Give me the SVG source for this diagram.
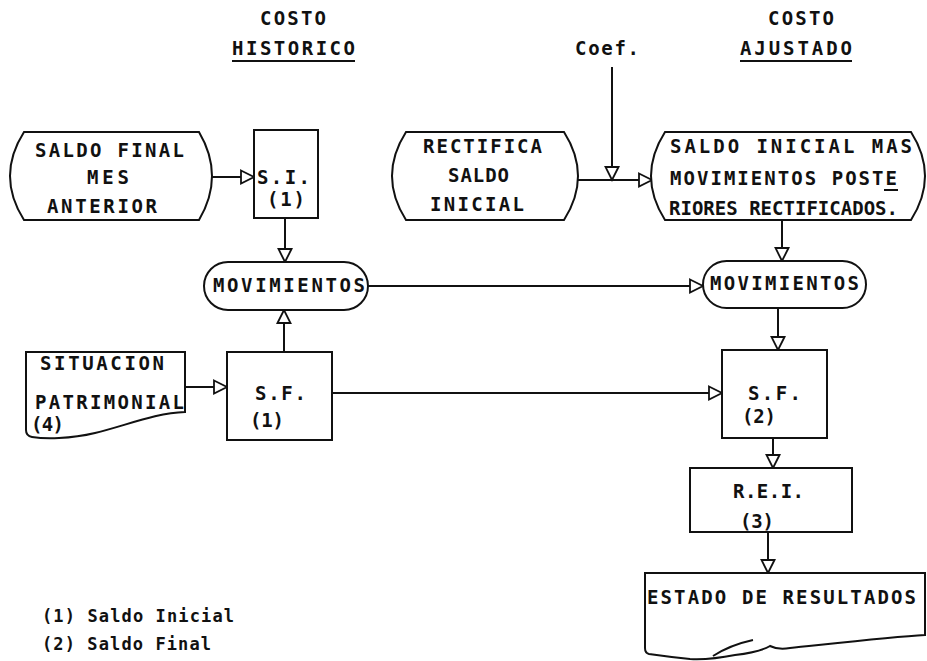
<svg xmlns="http://www.w3.org/2000/svg" width="927" height="661" viewBox="0 0 927 661">
<defs>
<style>
.t{font-family:"DejaVu Sans Mono","Liberation Mono",monospace;font-size:19px;font-weight:bold;fill:#111}
.f{font-family:"DejaVu Sans Mono","Liberation Mono",monospace;font-size:17px;font-weight:bold;fill:#111}
.s{fill:#fff;stroke:#111;stroke-width:2}
.o{fill:none;stroke:#111;stroke-width:2}
.c{fill:none;stroke:#111;stroke-width:2;marker-end:url(#ah)}
</style>
<marker id="ah" markerWidth="18" markerHeight="18" refX="14" refY="7" orient="auto" markerUnits="userSpaceOnUse" overflow="visible">
<path d="M1,0.5 L14,7 L1,13.5 Z" fill="#fff" stroke="#111" stroke-width="1.8"/>
</marker>
</defs>
<rect width="927" height="661" fill="#fff"/>

<g id="headers">
<text class="t" x="260" y="25" textLength="66" lengthAdjust="spacing">COSTO</text>
<text class="t" x="232" y="55" textLength="123" lengthAdjust="spacing">HISTORICO</text>
<line class="o" x1="232" y1="61" x2="355" y2="61"/>
<text class="t" x="768" y="25" textLength="66" lengthAdjust="spacing">COSTO</text>
<text class="t" x="740" y="55" textLength="112" lengthAdjust="spacing">AJUSTADO</text>
<line class="o" x1="740" y1="61" x2="852" y2="61"/>
</g>

<g id="connectors">
<path class="c" d="M212,177 H254"/>
<path class="c" d="M285,218 V262"/>
<path class="c" d="M284,352 V310"/>
<path class="c" d="M185,387 H227"/>
<path class="c" d="M368,286 H703"/>
<path class="c" d="M332,393 H722"/>
<path class="c" d="M612,67 V180"/>
<path class="c" d="M578,180 H652"/>
<path class="c" d="M782,220 V261"/>
<path class="c" d="M778,308 V350"/>
<path class="c" d="M773,438 V468"/>
<path class="c" d="M768,532 V573"/>
</g>

<g id="coef">
<text class="t" x="575" y="55" textLength="64" lengthAdjust="spacing">Coef.</text>
</g>

<g id="saldo-final-mes-anterior">
<path class="s" d="M24,132 H199 Q225,176 199,220 H24 Q-4,176 24,132 Z"/>
<text class="t" x="35" y="157" textLength="149" lengthAdjust="spacing">SALDO FINAL</text>
<text class="t" x="87" y="184" textLength="42" lengthAdjust="spacing">MES</text>
<text class="t" x="47" y="213" textLength="110" lengthAdjust="spacing">ANTERIOR</text>
</g>

<g id="si1">
<rect class="s" x="254" y="130" width="64" height="88"/>
<text class="t" x="257" y="184" textLength="53" lengthAdjust="spacing">S.I.</text>
<text class="t" x="267" y="206" textLength="38" lengthAdjust="spacing">(1)</text>
</g>

<g id="rectifica">
<path class="s" d="M406,132 H564 Q592,176 564,220 H406 Q378,176 406,132 Z"/>
<text class="t" x="423" y="153" textLength="119" lengthAdjust="spacing">RECTIFICA</text>
<text class="t" x="448" y="182" textLength="61" lengthAdjust="spacing">SALDO</text>
<text class="t" x="430" y="211" textLength="94" lengthAdjust="spacing">INICIAL</text>
</g>

<g id="saldo-inicial-mas">
<path class="s" d="M665,132 H911 Q939,176 911,220 H665 Q637,176 665,132 Z"/>
<text class="t" x="670" y="153" textLength="242" lengthAdjust="spacing">SALDO INICIAL MAS</text>
<text class="t" x="670" y="185" textLength="227" lengthAdjust="spacing">MOVIMIENTOS POSTE</text>
<line class="o" x1="884" y1="190" x2="898" y2="190"/>
<text class="t" x="669" y="215" textLength="229" lengthAdjust="spacing">RIORES RECTIFICADOS.</text>
</g>

<g id="movimientos-h">
<rect class="s" x="204" y="262" width="164" height="48" rx="24"/>
<text class="t" x="213" y="292" textLength="152" lengthAdjust="spacing">MOVIMIENTOS</text>
</g>

<g id="movimientos-a">
<rect class="s" x="703" y="261" width="163" height="47" rx="23.5"/>
<text class="t" x="710" y="290" textLength="149" lengthAdjust="spacing">MOVIMIENTOS</text>
</g>

<g id="situacion-patrimonial">
<path class="s" d="M26,352 H185 V412 C155,413 125,426 95,433 C70,439 45,439 32,437 Q26,436 26,430 Z"/>
<text class="t" x="40" y="370" textLength="124" lengthAdjust="spacing">SITUACION</text>
<text class="t" x="35" y="409" textLength="149" lengthAdjust="spacing">PATRIMONIAL</text>
<text class="t" x="31" y="431" textLength="33" lengthAdjust="spacing">(4)</text>
</g>

<g id="sf1">
<rect class="s" x="227" y="352" width="105" height="88"/>
<text class="t" x="255" y="400" textLength="51" lengthAdjust="spacing">S.F.</text>
<text class="t" x="250" y="427" textLength="34" lengthAdjust="spacing">(1)</text>
</g>

<g id="sf2">
<rect class="s" x="722" y="350" width="105" height="88"/>
<text class="t" x="748" y="400" textLength="53" lengthAdjust="spacing">S.F.</text>
<text class="t" x="742" y="423" textLength="34" lengthAdjust="spacing">(2)</text>
</g>

<g id="rei">
<rect class="s" x="690" y="468" width="162" height="64"/>
<text class="t" x="733" y="498" textLength="71" lengthAdjust="spacing">R.E.I.</text>
<text class="t" x="740" y="528" textLength="34" lengthAdjust="spacing">(3)</text>
</g>

<g id="estado-de-resultados">
<path class="s" d="M645,573 H925 V635 C890,637 820,645 790,648 Q778,650 770,646 Q760,652 735,655 Q710,660 690,659 Q670,657 649,654 Q645,653 645,648 Z"/>
<path class="o" d="M713,656 Q730,645 753,640"/>
<text class="t" x="647" y="604" textLength="269" lengthAdjust="spacing">ESTADO DE RESULTADOS</text>
</g>

<g id="notes">
<text class="f" x="42" y="622" textLength="192" lengthAdjust="spacing">(1) Saldo Inicial</text>
<text class="f" x="42" y="650" textLength="169" lengthAdjust="spacing">(2) Saldo Final</text>
</g>
</svg>
